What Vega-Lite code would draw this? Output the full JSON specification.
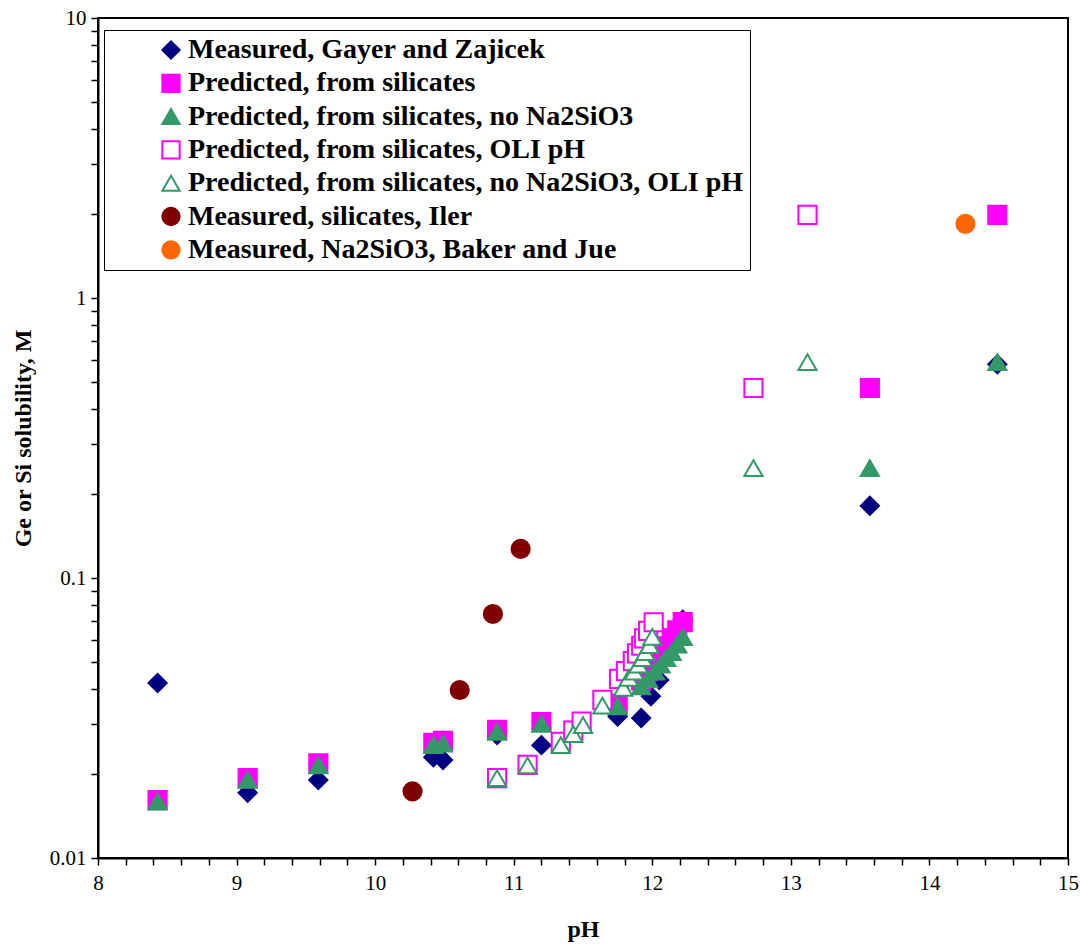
{
  "$schema": "https://vega.github.io/schema/vega-lite/v6.json",
  "width": 970,
  "height": 840,
  "autosize": "none",
  "padding": {"left": 98, "top": 18, "right": 13, "bottom": 87},
  "background": "white",
  "config": {
    "view": {"stroke": "black", "strokeWidth": 2},
    "font": "Liberation Serif",
    "legend": {
      "title": null,
      "orient": "none",
      "legendX": 6,
      "legendY": 12,
      "strokeColor": "black",
      "fillColor": "white",
      "padding": 6,
      "rowPadding": 5.3,
      "symbolOffset": 47,
      "labelOffset": 3,
      "symbolSize": 300,
      "symbolStrokeWidth": 2,
      "labelFont": "Liberation Serif",
      "labelFontSize": 28,
      "labelFontWeight": "bold",
      "labelColor": "black",
      "labelLimit": 1000
    }
  },
  "data": {
    "values": [
      {"series": "Measured, Gayer and Zajicek", "pH": 8.43, "sol": 0.0422},
      {"series": "Measured, Gayer and Zajicek", "pH": 9.08, "sol": 0.0171},
      {"series": "Measured, Gayer and Zajicek", "pH": 9.59, "sol": 0.019},
      {"series": "Measured, Gayer and Zajicek", "pH": 10.42, "sol": 0.0229},
      {"series": "Measured, Gayer and Zajicek", "pH": 10.49, "sol": 0.0224},
      {"series": "Measured, Gayer and Zajicek", "pH": 10.88, "sol": 0.0275},
      {"series": "Measured, Gayer and Zajicek", "pH": 11.2, "sol": 0.0253},
      {"series": "Measured, Gayer and Zajicek", "pH": 11.75, "sol": 0.032},
      {"series": "Measured, Gayer and Zajicek", "pH": 11.92, "sol": 0.0316},
      {"series": "Measured, Gayer and Zajicek", "pH": 11.99, "sol": 0.0378},
      {"series": "Measured, Gayer and Zajicek", "pH": 12.05, "sol": 0.0432},
      {"series": "Measured, Gayer and Zajicek", "pH": 12.22, "sol": 0.071},
      {"series": "Measured, Gayer and Zajicek", "pH": 13.57, "sol": 0.181},
      {"series": "Measured, Gayer and Zajicek", "pH": 14.49, "sol": 0.58},

      {"series": "Predicted, from silicates", "pH": 8.43, "sol": 0.0161},
      {"series": "Predicted, from silicates", "pH": 9.08, "sol": 0.0193},
      {"series": "Predicted, from silicates", "pH": 9.59, "sol": 0.0218},
      {"series": "Predicted, from silicates", "pH": 10.42, "sol": 0.0258},
      {"series": "Predicted, from silicates", "pH": 10.49, "sol": 0.0262},
      {"series": "Predicted, from silicates", "pH": 10.88, "sol": 0.0287},
      {"series": "Predicted, from silicates", "pH": 11.2, "sol": 0.0306},
      {"series": "Predicted, from silicates", "pH": 11.75, "sol": 0.0355},
      {"series": "Predicted, from silicates", "pH": 11.92, "sol": 0.043},
      {"series": "Predicted, from silicates", "pH": 11.97, "sol": 0.0465},
      {"series": "Predicted, from silicates", "pH": 12.02, "sol": 0.05},
      {"series": "Predicted, from silicates", "pH": 12.06, "sol": 0.0535},
      {"series": "Predicted, from silicates", "pH": 12.1, "sol": 0.057},
      {"series": "Predicted, from silicates", "pH": 12.14, "sol": 0.061},
      {"series": "Predicted, from silicates", "pH": 12.18, "sol": 0.065},
      {"series": "Predicted, from silicates", "pH": 12.22, "sol": 0.0696},
      {"series": "Predicted, from silicates", "pH": 13.57, "sol": 0.477},
      {"series": "Predicted, from silicates", "pH": 14.49, "sol": 1.98},

      {"series": "Predicted, from silicates, no Na2SiO3", "pH": 8.43, "sol": 0.0159},
      {"series": "Predicted, from silicates, no Na2SiO3", "pH": 9.08, "sol": 0.019},
      {"series": "Predicted, from silicates, no Na2SiO3", "pH": 9.59, "sol": 0.0214},
      {"series": "Predicted, from silicates, no Na2SiO3", "pH": 10.42, "sol": 0.0253},
      {"series": "Predicted, from silicates, no Na2SiO3", "pH": 10.49, "sol": 0.0256},
      {"series": "Predicted, from silicates, no Na2SiO3", "pH": 10.88, "sol": 0.0282},
      {"series": "Predicted, from silicates, no Na2SiO3", "pH": 11.2, "sol": 0.0301},
      {"series": "Predicted, from silicates, no Na2SiO3", "pH": 11.75, "sol": 0.0348},
      {"series": "Predicted, from silicates, no Na2SiO3", "pH": 11.92, "sol": 0.041},
      {"series": "Predicted, from silicates, no Na2SiO3", "pH": 11.97, "sol": 0.0435},
      {"series": "Predicted, from silicates, no Na2SiO3", "pH": 12.02, "sol": 0.0463},
      {"series": "Predicted, from silicates, no Na2SiO3", "pH": 12.06, "sol": 0.049},
      {"series": "Predicted, from silicates, no Na2SiO3", "pH": 12.1, "sol": 0.0517},
      {"series": "Predicted, from silicates, no Na2SiO3", "pH": 12.14, "sol": 0.0544},
      {"series": "Predicted, from silicates, no Na2SiO3", "pH": 12.18, "sol": 0.0578},
      {"series": "Predicted, from silicates, no Na2SiO3", "pH": 12.22, "sol": 0.0615},
      {"series": "Predicted, from silicates, no Na2SiO3", "pH": 13.57, "sol": 0.247},
      {"series": "Predicted, from silicates, no Na2SiO3", "pH": 14.49, "sol": 0.59},

      {"series": "Predicted, from silicates, OLI pH", "pH": 10.88, "sol": 0.0193},
      {"series": "Predicted, from silicates, OLI pH", "pH": 11.1, "sol": 0.0215},
      {"series": "Predicted, from silicates, OLI pH", "pH": 11.34, "sol": 0.026},
      {"series": "Predicted, from silicates, OLI pH", "pH": 11.43, "sol": 0.0285},
      {"series": "Predicted, from silicates, OLI pH", "pH": 11.49, "sol": 0.0307},
      {"series": "Predicted, from silicates, OLI pH", "pH": 11.64, "sol": 0.0367},
      {"series": "Predicted, from silicates, OLI pH", "pH": 11.76, "sol": 0.0436},
      {"series": "Predicted, from silicates, OLI pH", "pH": 11.81, "sol": 0.0465},
      {"series": "Predicted, from silicates, OLI pH", "pH": 11.86, "sol": 0.0505},
      {"series": "Predicted, from silicates, OLI pH", "pH": 11.89, "sol": 0.0538},
      {"series": "Predicted, from silicates, OLI pH", "pH": 11.92, "sol": 0.0573},
      {"series": "Predicted, from silicates, OLI pH", "pH": 11.94, "sol": 0.0609},
      {"series": "Predicted, from silicates, OLI pH", "pH": 11.97, "sol": 0.0647},
      {"series": "Predicted, from silicates, OLI pH", "pH": 12.01, "sol": 0.0695},
      {"series": "Predicted, from silicates, OLI pH", "pH": 12.73, "sol": 0.477},
      {"series": "Predicted, from silicates, OLI pH", "pH": 13.12, "sol": 1.98},

      {"series": "Predicted, from silicates, no Na2SiO3, OLI pH", "pH": 10.88, "sol": 0.0193},
      {"series": "Predicted, from silicates, no Na2SiO3, OLI pH", "pH": 11.1, "sol": 0.0214},
      {"series": "Predicted, from silicates, no Na2SiO3, OLI pH", "pH": 11.34, "sol": 0.0253},
      {"series": "Predicted, from silicates, no Na2SiO3, OLI pH", "pH": 11.43, "sol": 0.0277},
      {"series": "Predicted, from silicates, no Na2SiO3, OLI pH", "pH": 11.5, "sol": 0.0298},
      {"series": "Predicted, from silicates, no Na2SiO3, OLI pH", "pH": 11.64, "sol": 0.035},
      {"series": "Predicted, from silicates, no Na2SiO3, OLI pH", "pH": 11.79, "sol": 0.0405},
      {"series": "Predicted, from silicates, no Na2SiO3, OLI pH", "pH": 11.83, "sol": 0.044},
      {"series": "Predicted, from silicates, no Na2SiO3, OLI pH", "pH": 11.87, "sol": 0.0463},
      {"series": "Predicted, from silicates, no Na2SiO3, OLI pH", "pH": 11.9, "sol": 0.049},
      {"series": "Predicted, from silicates, no Na2SiO3, OLI pH", "pH": 11.93, "sol": 0.0517},
      {"series": "Predicted, from silicates, no Na2SiO3, OLI pH", "pH": 11.95, "sol": 0.0544},
      {"series": "Predicted, from silicates, no Na2SiO3, OLI pH", "pH": 11.98, "sol": 0.0576},
      {"series": "Predicted, from silicates, no Na2SiO3, OLI pH", "pH": 12.0, "sol": 0.0616},
      {"series": "Predicted, from silicates, no Na2SiO3, OLI pH", "pH": 12.73, "sol": 0.247},
      {"series": "Predicted, from silicates, no Na2SiO3, OLI pH", "pH": 13.12, "sol": 0.59},

      {"series": "Measured, silicates, Iler", "pH": 10.27, "sol": 0.0173},
      {"series": "Measured, silicates, Iler", "pH": 10.61, "sol": 0.0398},
      {"series": "Measured, silicates, Iler", "pH": 10.85, "sol": 0.0744},
      {"series": "Measured, silicates, Iler", "pH": 11.05, "sol": 0.127},

      {"series": "Measured, Na2SiO3, Baker and Jue", "pH": 14.26, "sol": 1.84}
    ]
  },
  "mark": {"type": "point", "filled": false, "size": 330, "strokeWidth": 2, "opacity": 1},
  "encoding": {
    "x": {
      "field": "pH", "type": "quantitative",
      "scale": {"domain": [8, 15], "nice": false, "zero": false},
      "axis": {
        "title": "pH",
        "values": [8, 8.2, 8.4, 8.6, 8.8, 9, 9.2, 9.4, 9.6, 9.8, 10, 10.2, 10.4, 10.6, 10.8, 11, 11.2, 11.4, 11.6, 11.8, 12, 12.2, 12.4, 12.6, 12.8, 13, 13.2, 13.4, 13.6, 13.8, 14, 14.2, 14.4, 14.6, 14.8, 15],
        "labelExpr": "datum.value % 1 === 0 ? format(datum.value, 'd') : ''",
        "labelFlush": false,
        "labelOverlap": false,
        "grid": false,
        "domainColor": "black", "domainWidth": 2,
        "tickColor": "black", "tickWidth": 1.5, "tickSize": 7,
        "labelFont": "Liberation Serif", "labelFontSize": 21, "labelColor": "black", "labelPadding": 7,
        "titleFont": "Liberation Serif", "titleFontSize": 24, "titleFontWeight": "bold", "titleColor": "black", "titlePadding": 24
      }
    },
    "y": {
      "field": "sol", "type": "quantitative",
      "scale": {"type": "log", "domain": [0.01, 10], "nice": false},
      "axis": {
        "title": "Ge or Si solubility, M",
        "values": [0.01, 0.02, 0.03, 0.04, 0.05, 0.06, 0.07, 0.08, 0.09, 0.1, 0.2, 0.3, 0.4, 0.5, 0.6, 0.7, 0.8, 0.9, 1, 2, 3, 4, 5, 6, 7, 8, 9, 10],
        "labelExpr": "datum.value == 10 ? '10' : datum.value == 1 ? '1' : datum.value == 0.1 ? '0.1' : datum.value == 0.01 ? '0.01' : ''",
        "labelOverlap": false,
        "grid": false,
        "domainColor": "black", "domainWidth": 2,
        "tickColor": "black", "tickWidth": 1.5, "tickSize": 7,
        "labelFont": "Liberation Serif", "labelFontSize": 21, "labelColor": "black", "labelPadding": 5,
        "titleFont": "Liberation Serif", "titleFontSize": 24, "titleFontWeight": "bold", "titleColor": "black", "titlePadding": 14
      }
    },
    "shape": {
      "field": "series", "type": "nominal", "title": null,
      "scale": {
        "domain": ["Measured, Gayer and Zajicek", "Predicted, from silicates", "Predicted, from silicates, no Na2SiO3", "Predicted, from silicates, OLI pH", "Predicted, from silicates, no Na2SiO3, OLI pH", "Measured, silicates, Iler", "Measured, Na2SiO3, Baker and Jue"],
        "range": ["diamond", "square", "triangle-up", "square", "triangle-up", "circle", "circle"]
      },
      "legend": {"labelExpr": "datum.label + '\u2003\u2003'"}
    },
    "fill": {
      "field": "series", "type": "nominal", "title": null,
      "scale": {
        "domain": ["Measured, Gayer and Zajicek", "Predicted, from silicates", "Predicted, from silicates, no Na2SiO3", "Predicted, from silicates, OLI pH", "Predicted, from silicates, no Na2SiO3, OLI pH", "Measured, silicates, Iler", "Measured, Na2SiO3, Baker and Jue"],
        "range": ["#000080", "#FF00FF", "#339966", "#FFFFFF", "#FFFFFF", "#800000", "#FF6600"]
      },
      "legend": {"labelExpr": "datum.label + '\u2003\u2003'"}
    },
    "stroke": {
      "field": "series", "type": "nominal", "title": null,
      "scale": {
        "domain": ["Measured, Gayer and Zajicek", "Predicted, from silicates", "Predicted, from silicates, no Na2SiO3", "Predicted, from silicates, OLI pH", "Predicted, from silicates, no Na2SiO3, OLI pH", "Measured, silicates, Iler", "Measured, Na2SiO3, Baker and Jue"],
        "range": ["#000080", "#FF00FF", "#339966", "#FF00FF", "#339966", "#800000", "#FF6600"]
      },
      "legend": {"labelExpr": "datum.label + '\u2003\u2003'"}
    }
  }
}
